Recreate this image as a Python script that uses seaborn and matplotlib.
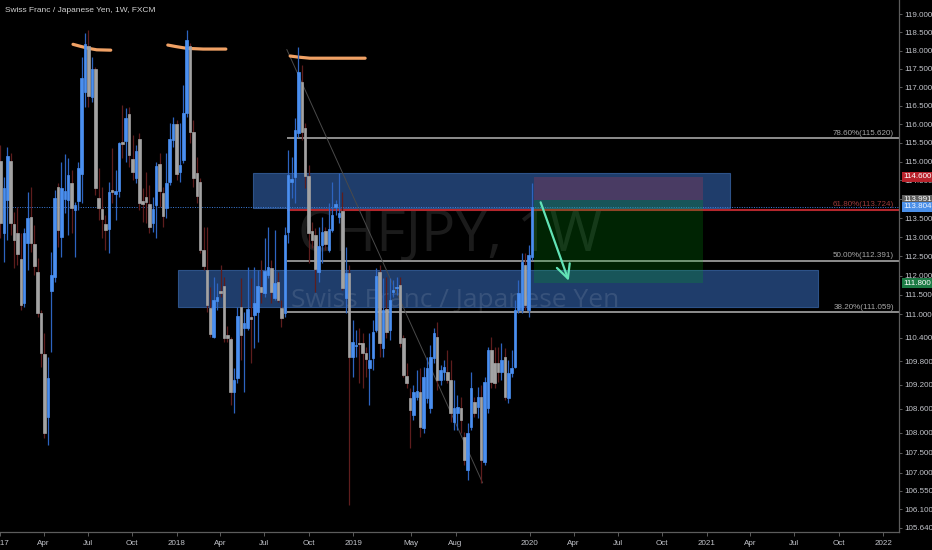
import numpy as np
import pandas as pd
import matplotlib
matplotlib.use("Agg")
import matplotlib.pyplot as plt
import matplotlib.dates as mdates
import matplotlib.transforms as mtransforms
from matplotlib.patches import Rectangle
from matplotlib.ticker import NullLocator
import seaborn as sns

# -----------------------------
# Weekly CHFJPY candles
# -----------------------------
first_week = "2017-01-02"

opens = [115.01, 113.11, 113.98, 115.01, 113.35, 113.11, 112.44, 111.29, 112.85, 113.53,
         112.83, 112.10, 111.03, 109.99, 108.40, 111.60, 111.97, 114.32, 113.01, 114.01,
         113.98, 114.43, 113.72, 113.95, 114.67, 116.87, 118.12, 116.73, 117.50, 114.04,
         113.74, 113.35, 113.22, 114.24, 114.14, 114.22, 115.52, 115.55, 116.27, 115.07,
         114.56, 115.60, 113.95, 114.06, 113.87, 113.37, 113.85, 114.94, 114.16, 113.77,
         114.46, 115.57, 116.00, 114.72, 115.04, 116.30, 118.12, 115.79, 114.70, 114.46,
         112.67, 112.15, 111.16, 110.42, 111.34, 111.60, 111.73, 110.47, 110.37, 109.02,
         109.38, 111.19, 110.65, 110.65, 110.93, 110.99, 111.06, 111.71, 111.55, 112.02,
         112.20, 111.42, 111.84, 111.16, 111.03, 113.14, 114.46, 114.59, 115.76, 117.14,
         115.89, 114.62, 113.16, 113.06, 112.10, 112.80, 113.16, 112.67, 113.19, 113.80,
         113.53, 113.69, 111.42, 112.07, 109.91, 110.19, 110.27, 110.27, 110.01, 109.63,
         109.89, 110.60, 112.10, 110.14, 111.14, 110.60, 111.58, 111.68, 111.76, 110.40,
         109.43, 108.87, 108.44, 108.89, 109.02, 108.12, 108.87, 108.62, 109.89, 110.42,
         109.33, 109.53, 109.53, 109.33, 108.27, 108.50, 108.62, 107.89, 107.07, 108.14,
         108.77, 108.64, 108.89, 107.27, 108.62, 110.09, 109.76, 109.76, 109.53, 109.91,
         108.87, 109.50, 109.66, 111.11, 111.11, 112.28, 111.11, 112.49]

highs = [115.44, 114.59, 115.39, 115.23, 113.66, 113.79, 113.11, 113.24, 114.19, 114.32,
         113.32, 112.46, 111.11, 110.52, 109.91, 112.62, 114.24, 114.43, 114.99, 115.20,
         115.10, 114.78, 113.93, 114.99, 117.82, 118.47, 118.56, 117.82, 117.55, 114.83,
         114.32, 113.58, 114.46, 115.36, 114.78, 115.52, 116.51, 116.43, 116.46, 115.71,
         115.44, 115.76, 114.29, 114.72, 114.38, 114.06, 114.99, 115.23, 114.32, 115.23,
         116.03, 116.19, 116.11, 116.03, 117.06, 118.56, 118.20, 116.11, 115.12, 114.56,
         113.27, 113.27, 111.71, 111.97, 111.81, 112.28, 111.97, 110.70, 110.42, 109.63,
         111.19, 111.94, 111.06, 112.23, 111.94, 112.23, 112.15, 112.41, 112.98, 113.27,
         112.41, 113.19, 112.10, 111.37, 113.27, 115.31, 115.12, 116.16, 118.09, 117.61,
         116.03, 114.91, 113.40, 113.24, 113.27, 113.53, 113.27, 113.90, 114.46, 113.98,
         114.70, 114.19, 112.75, 112.28, 110.86, 110.60, 110.65, 110.52, 110.17, 110.52,
         110.86, 112.20, 112.28, 111.94, 111.97, 111.94, 111.89, 111.97, 111.97, 110.47,
         109.76, 109.12, 109.20, 109.58, 109.63, 109.66, 109.91, 110.22, 110.65, 110.81,
         109.71, 109.84, 110.09, 109.84, 109.33, 108.94, 108.89, 108.02, 108.24, 109.53,
         108.89, 109.15, 109.20, 109.40, 110.17, 110.42, 110.17, 110.17, 110.27, 110.14,
         109.84, 110.09, 111.37, 111.89, 112.59, 112.59, 112.80, 114.43]

lows = [112.98, 112.36, 112.93, 113.06, 112.20, 112.28, 111.11, 111.19, 112.15, 112.62,
        112.02, 110.93, 109.66, 107.87, 107.70, 110.04, 111.84, 112.75, 112.49, 113.64,
        113.06, 113.11, 112.49, 113.72, 113.90, 116.46, 116.46, 116.60, 114.11, 113.45,
        112.98, 112.67, 112.59, 113.90, 113.45, 114.06, 115.10, 114.99, 114.86, 114.51,
        114.43, 113.72, 113.40, 113.37, 113.11, 113.14, 112.98, 113.79, 113.27, 113.51,
        114.38, 115.39, 114.51, 114.46, 114.96, 116.19, 115.49, 114.32, 113.90, 112.59,
        112.15, 111.06, 110.42, 110.40, 111.11, 111.45, 110.29, 110.30, 108.69, 108.50,
        109.25, 109.84, 109.02, 110.60, 109.76, 110.14, 110.29, 111.29, 111.45, 111.94,
        111.29, 111.37, 111.32, 110.68, 110.93, 112.85, 114.04, 113.90, 115.65, 115.57,
        114.30, 112.33, 112.72, 111.58, 111.84, 112.33, 112.67, 112.62, 113.14, 113.58,
        113.37, 111.63, 111.03, 106.20, 109.40, 109.91, 109.25, 109.12, 109.40, 108.69,
        109.58, 110.55, 109.91, 109.91, 110.40, 110.35, 111.45, 111.50, 110.17, 109.40,
        109.12, 107.62, 108.32, 108.82, 107.89, 107.99, 108.74, 108.50, 109.76, 109.07,
        109.20, 109.33, 109.25, 108.27, 108.07, 108.07, 107.99, 107.19, 106.82, 108.07,
        108.40, 108.37, 106.75, 107.19, 108.50, 109.12, 109.12, 109.28, 109.33, 108.82,
        108.74, 109.40, 109.63, 111.03, 111.03, 111.11, 110.93, 112.41]

closes = [113.37, 114.29, 115.15, 113.37, 112.93, 112.57, 111.24, 113.11, 113.51, 112.85,
          112.25, 111.03, 110.01, 108.00, 109.38, 112.02, 114.03, 113.19, 114.29, 114.22,
          114.64, 113.77, 113.85, 114.83, 117.25, 118.17, 116.76, 117.50, 114.29, 113.77,
          113.48, 113.19, 114.19, 114.19, 114.22, 115.49, 115.47, 116.16, 115.18, 114.72,
          115.28, 113.90, 113.87, 113.93, 113.27, 113.74, 114.88, 114.22, 113.56, 114.43,
          115.60, 116.00, 114.67, 114.91, 116.30, 118.28, 115.79, 114.56, 114.09, 112.67,
          112.25, 111.24, 110.50, 111.37, 111.45, 111.55, 110.40, 110.40, 109.02, 109.33,
          110.96, 110.47, 110.78, 111.14, 110.88, 111.29, 111.73, 111.58, 112.12, 112.23,
          111.58, 111.81, 111.37, 110.91, 113.06, 114.64, 114.54, 115.84, 117.42, 115.79,
          114.62, 113.11, 112.93, 112.17, 112.77, 113.14, 112.83, 113.22, 113.58, 113.87,
          113.64, 111.68, 112.07, 109.91, 110.29, 110.22, 110.24, 110.01, 109.86, 109.84,
          110.55, 111.99, 110.27, 111.11, 110.55, 111.37, 111.63, 111.71, 110.27, 109.45,
          109.25, 108.57, 109.02, 109.04, 108.14, 109.40, 109.63, 109.91, 110.52, 109.33,
          109.58, 109.66, 109.33, 108.50, 108.62, 108.64, 108.32, 107.32, 107.99, 109.12,
          108.50, 108.89, 107.32, 109.28, 110.09, 109.28, 109.25, 109.53, 109.84, 108.89,
          109.50, 109.63, 111.11, 111.55, 112.36, 111.24, 112.54, 113.80]

# -----------------------------
# Drawings on the chart
# -----------------------------
fib_ratios = ["78.60%", "61.80%", "50.00%", "38.20%"]
fib_prices = [115.620, 113.724, 112.391, 111.059]
fib_start = "2018-08-17"
fib_high = 118.03
fib_low = 106.747
fib_low_date = "2019-09-26"

zone_upper = ("2018-06-08", "2021-02-18", 113.77, 114.70)
zone_lower = ("2018-01-04", "2021-08-19", 111.19, 112.15)

pos_start, pos_end = "2020-01-10", "2020-12-24"
stop_price, entry_price, target_price = 114.600, 113.991, 111.800
last_price = 113.804

arrow_from = ("2020-01-22", 113.99)
arrow_to = ("2020-03-24", 111.80)

top_marks = [
    (["2017-06-01", "2017-06-15", "2017-07-03", "2017-07-20", "2017-08-18"],
     [118.17, 118.12, 118.06, 118.02, 118.01]),
    (["2017-12-14", "2017-12-30", "2018-01-22", "2018-02-25", "2018-04-13"],
     [118.15, 118.11, 118.06, 118.04, 118.04]),
    (["2018-08-24", "2018-09-10", "2018-10-04", "2018-11-20", "2019-01-26"],
     [117.85, 117.82, 117.79, 117.79, 117.79]),
]

y_ticks = [105.64, 106.10, 106.55, 107.0, 107.5, 108.0, 108.6, 109.2, 109.8, 110.4,
           111.0, 111.5, 112.0, 112.5, 113.0, 113.5, 114.0, 114.5, 115.0, 115.5,
           116.0, 116.5, 117.0, 117.5, 118.0, 118.5, 119.0]
hidden_ticks = [114.0]  # sits under the entry price tag
x_tick_dates = ["2017-01-01", "2017-04-01", "2017-07-01", "2017-10-01", "2018-01-01",
                "2018-04-01", "2018-07-01", "2018-10-01", "2019-01-01", "2019-05-01",
                "2019-08-01", "2020-01-01", "2020-04-01", "2020-07-01", "2020-10-01",
                "2021-01-01", "2021-04-01", "2021-07-01", "2021-10-01", "2022-01-01"]
x_tick_labels = ["2017", "Apr", "Jul", "Oct", "2018", "Apr", "Jul", "Oct", "2019", "May",
                 "Aug", "2020", "Apr", "Jul", "Oct", "2021", "Apr", "Jul", "Oct", "2022"]


def dnum(d):
    return mdates.date2num(pd.Timestamp(d))


# -----------------------------
# Style
# -----------------------------
sns.set_theme(style="dark", rc={"axes.facecolor": "black", "figure.facecolor": "black"})
plt.rcParams["font.family"] = ["Liberation Sans", "DejaVu Sans"]

UP_BODY, UP_WICK = "#4a8ff0", "#2d64c0"
DN_BODY, DN_WICK = "#a3a3a3", "#5e1d1d"
TXT = "#c3c5cb"
LBL = 5.8

fig = plt.figure(figsize=(9.32, 5.5), dpi=100)
ax = fig.add_axes([0, 18 / 550, 899 / 932, 532 / 550])
ax.set_facecolor("black")
ax.set_yscale("log")
ax.set_ylim(105.54, 119.39)
ax.set_xlim(dnum("2017-01-01"), dnum("2022-02-03"))

# -----------------------------
# Zones, watermark
# -----------------------------
for x0, x1, lo, hi in (zone_upper, zone_lower):
    ax.add_patch(Rectangle((dnum(x0), lo), dnum(x1) - dnum(x0), hi - lo,
                           facecolor="#1f3d6b", edgecolor="#2d5288", lw=0.8, zorder=1))

ax.text(0.501, 0.556, "CHFJPY, 1W", transform=ax.transAxes, ha="center", va="center",
        fontsize=41, family="Open Sans", color=(1, 1, 1, 0.11), zorder=1.5)
ax.text(0.506, 0.436, "Swiss Franc / Japanese Yen", transform=ax.transAxes,
        ha="center", va="center", fontsize=19, family="Open Sans",
        color=(1, 1, 1, 0.11), zorder=1.5)

# -----------------------------
# Fibonacci levels
# -----------------------------
xmax = ax.get_xlim()[1]
blend = mtransforms.blended_transform_factory(ax.transAxes, ax.transData)
for ratio, price in zip(fib_ratios, fib_prices):
    is_red = ratio == "61.80%"
    ax.hlines(price, dnum(fib_start), xmax, color="#b3262c" if is_red else "#a5a5a5",
              lw=1.5 if is_red else 1.2, zorder=2)
    ax.text(894 / 899, price * 1.0003, f"{ratio}({price:.3f})", transform=blend,
            ha="right", va="bottom", fontsize=LBL, color="#9c3a3a" if is_red else "#a8a8a8",
            zorder=2)

ax.plot([dnum(fib_start), dnum(fib_low_date)], [fib_high, fib_low],
        color="#4a4a4a", lw=0.7, zorder=2)
ax.axhline(last_price, color="#3d7fe0", lw=0.7, ls=(0, (1, 1.5)), zorder=2)

# -----------------------------
# Position box
# -----------------------------
p0, p1 = dnum(pos_start), dnum(pos_end)
ax.add_patch(Rectangle((p0, entry_price), p1 - p0, stop_price - entry_price,
                       facecolor=(0.95, 0.21, 0.27, 0.2), edgecolor="none", zorder=2.2))
ax.add_patch(Rectangle((p0, target_price), p1 - p0, entry_price - target_price,
                       facecolor=(0.0, 0.72, 0.08, 0.2), edgecolor="none", zorder=2.2))

# -----------------------------
# Hand drawn tops
# -----------------------------
for dts, vals in top_marks:
    sns.lineplot(x=[dnum(d) for d in dts], y=vals, ax=ax, color="#f0a165", lw=2.3,
                 sort=False, estimator=None, zorder=2.6)

# -----------------------------
# Candles
# -----------------------------
df = pd.DataFrame({"date": pd.date_range(first_week, periods=len(opens), freq="W-MON"),
                   "open": opens, "high": highs, "low": lows, "close": closes})
df["x"] = mdates.date2num(df["date"])
df["up"] = df["close"] >= df["open"]
wick_cols = np.where(df["up"], UP_WICK, DN_WICK)
body_cols = np.where(df["up"], UP_BODY, DN_BODY)
ax.vlines(df["x"], df["low"], df["high"], colors=wick_cols, lw=0.9, zorder=3)
body_lo = np.minimum(df["open"], df["close"])
body_h = (df["open"] - df["close"]).abs()
ax.bar(df["x"], body_h, bottom=body_lo, width=5.2, color=body_cols,
       edgecolor=body_cols, lw=0.5, zorder=3.1)

ax.annotate("", xy=(dnum(arrow_to[0]), arrow_to[1]),
            xytext=(dnum(arrow_from[0]), arrow_from[1]),
            arrowprops=dict(arrowstyle="->,head_length=0.7,head_width=0.35",
                            color="#62e3b6", lw=1.6, mutation_scale=14), zorder=5)

# -----------------------------
# Axes, ticks, price labels
# -----------------------------
for side in ("top", "left"):
    ax.spines[side].set_visible(False)
for side in ("right", "bottom"):
    ax.spines[side].set_visible(True)
    ax.spines[side].set_color("#5c5c5c")
    ax.spines[side].set_linewidth(0.9)

ax.yaxis.tick_right()
ax.yaxis.set_minor_locator(NullLocator())
ax.set_yticks(y_ticks)
ax.set_yticklabels(["" if t in hidden_ticks else f"{t:.3f}" for t in y_ticks])
ax.set_xticks([dnum(d) for d in x_tick_dates])
ax.set_xticklabels(x_tick_labels)
ax.tick_params(axis="y", right=True, left=False, labelright=True, labelleft=False,
               length=2.5, width=0.6, pad=1.5, color="#6a6a6a", labelcolor=TXT,
               labelsize=LBL)
ax.tick_params(axis="x", bottom=True, length=3, width=0.6, pad=3, color="#6a6a6a",
               labelcolor=TXT, labelsize=LBL)
ax.grid(False)
ax.set_xlabel("")
ax.set_ylabel("")

for price, fc, tc in [(stop_price, "#b8222b", "white"), (entry_price, "#5e5e5e", "white"),
                      (last_price, "#4a8fe8", "#eef4ff"), (target_price, "#1c7a44", "white")]:
    ax.text(1.0 + 4 / 899, price, f"{price:.3f}", transform=blend, ha="left", va="center",
            fontsize=LBL, color=tc, clip_on=False, zorder=6,
            bbox=dict(boxstyle="square,pad=0.18", fc=fc, ec="none"))

fig.text(5 / 932, 1 - 11 / 550, "Swiss Franc / Japanese Yen, 1W, FXCM", ha="left",
         va="center", fontsize=6.0, color="#d2d2d2")

fig.savefig("out.png", dpi=100, facecolor="black")
